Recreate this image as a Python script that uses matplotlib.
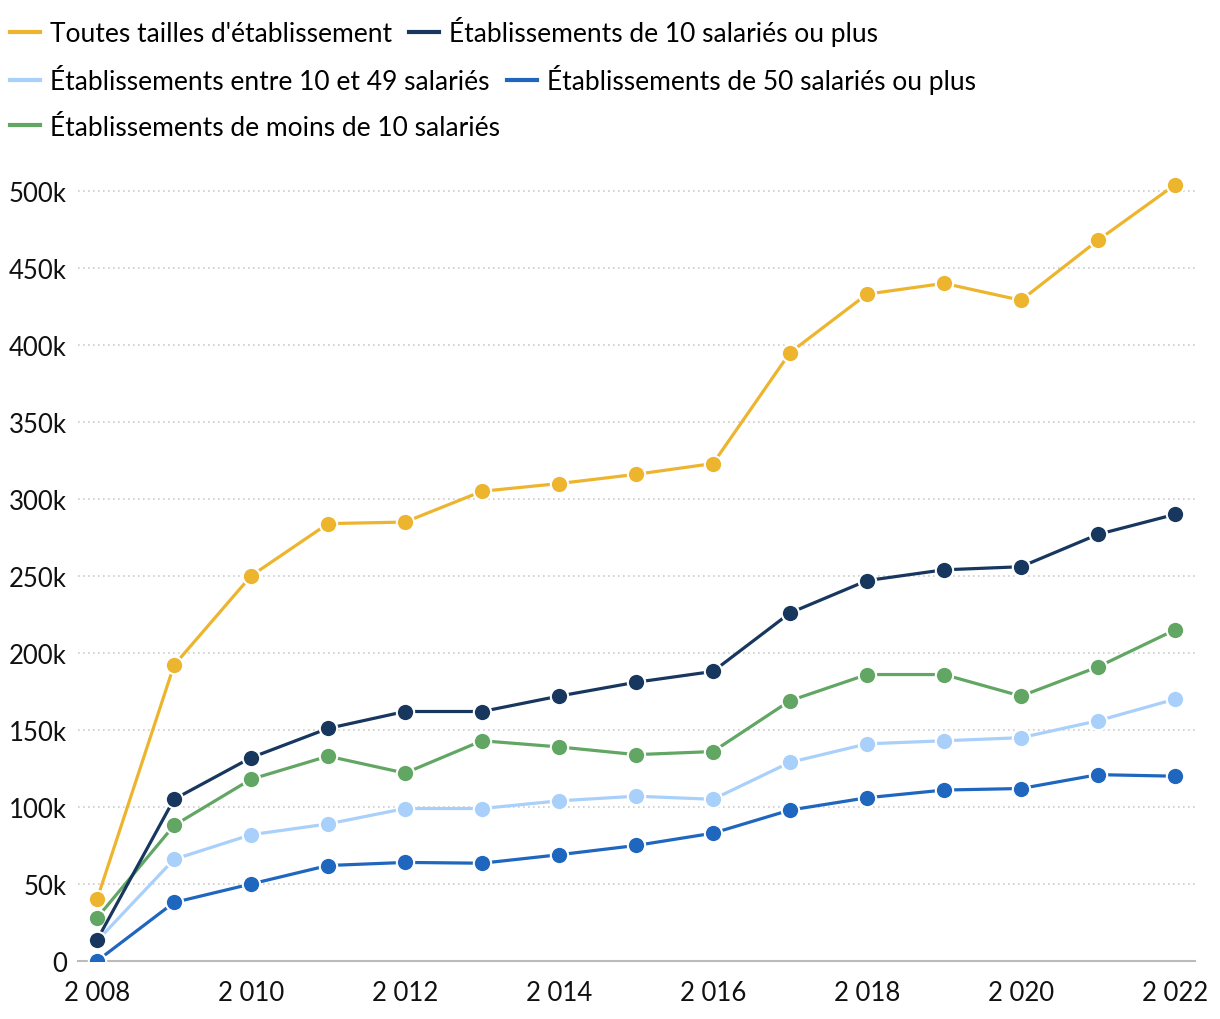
import matplotlib
matplotlib.use('Agg')
import matplotlib.pyplot as plt
from matplotlib.ticker import FuncFormatter

plt.rcParams['font.family'] = ['Lato', 'DejaVu Sans']

years = list(range(2008, 2023))
toutes = [40, 192, 250, 284, 285, 305, 310, 316, 323, 395, 433, 440, 429, 468, 504]
plus_10 = [13.6, 105, 132, 151, 162, 162, 172, 181, 188, 226, 247, 254, 256, 277, 290]
entre_10_49 = [13, 66, 82, 89, 99, 99, 104, 107, 105, 129, 141, 143, 145, 156, 170]
plus_50 = [0, 38, 50, 62, 64, 63.5, 69, 75, 83, 98, 106, 111, 112, 121, 120]
moins_10 = [28, 88, 118, 133, 122, 143, 139, 134, 136, 169, 186, 186, 172, 191, 215]

labels = ["Toutes tailles d'établissement", "Établissements de 10 salariés ou plus",
          "Établissements entre 10 et 49 salariés", "Établissements de 50 salariés ou plus",
          "Établissements de moins de 10 salariés"]
colors = ['#EDB52E', '#17375E', '#A9D0FB', '#1F66BE', '#62A663']
series = [toutes, plus_10, entre_10_49, plus_50, moins_10]

fig = plt.figure(figsize=(12.2, 10.2), dpi=100)
ax = fig.add_axes([78 / 1220, 1 - 962 / 1020, (1195 - 78) / 1220, (962 - 175) / 1020])

# draw order: lower series first so top ones stay visible
order = [3, 2, 4, 1, 0]
for i in order:
    vals = [v * 1000 for v in series[i]]
    ax.plot(years, vals, color=colors[i], lw=2.3, marker='o', ms=12.5,
            mec='white', mew=1.5, label=labels[i], zorder=3 + order.index(i))

ax.set_xlim(2008 - 19 / 77, 2022 + 20 / 77)
ax.set_ylim(0, 511000)
ax.set_xticks(range(2008, 2023, 2))
ax.xaxis.set_major_formatter(FuncFormatter(lambda v, p: f"{int(v) // 1000} {int(v) % 1000:03d}"))
ax.set_yticks(range(0, 500001, 50000))
ax.yaxis.set_major_formatter(FuncFormatter(lambda v, p: '0' if v == 0 else f"{int(v / 1000)}k"))
ax.tick_params(length=0, labelsize=18.5, colors='#111111', pad=8)
ax.tick_params(axis='x', pad=14)

ax.grid(axis='y', color='#cccccc', linestyle=(0, (1, 2)), lw=1.2)
ax.set_axisbelow(True)
for s in ['top', 'right', 'left']:
    ax.spines[s].set_visible(False)
ax.spines['bottom'].set_color('#bbbbbb')
ax.spines['bottom'].set_linewidth(1.5)

# legend, laid out in rows like the original
rows = [[0, 1], [2, 3], [4]]
row_y = [32, 80, 128]
for r, yy in zip(rows, row_y):
    hs = []
    for i in r:
        l, = ax.plot([], [], color=colors[i], lw=3)
        hs.append(l)
    fig.legend(hs, [labels[i] for i in r], loc='center left',
               bbox_to_anchor=(10 / 1220, 1 - yy / 1020), ncol=len(r),
               frameon=False, fontsize=19, handlelength=1.14,
               handletextpad=0.38, columnspacing=0.65, borderpad=0,
               borderaxespad=0)

fig.savefig('out.png', dpi=100)
